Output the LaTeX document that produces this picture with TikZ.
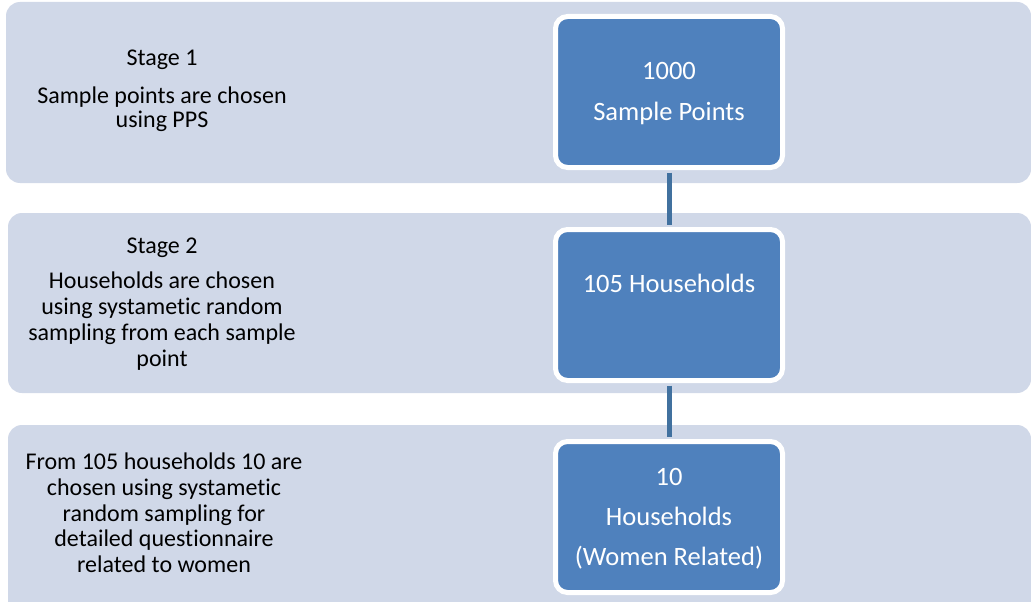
\documentclass[tikz,border=0pt]{standalone}
\usepackage{fontspec}
\setmainfont{Carlito}[Ligatures=NoCommon]
\definecolor{bandc}{HTML}{D0D8E8}
\definecolor{boxc}{HTML}{4F81BD}
\definecolor{linec}{HTML}{41719F}
\begin{document}
\begin{tikzpicture}[x=1pt,y=-1pt,
  band/.style={fill=bandc,draw=none,rounded corners=14pt},
  bluebox/.style={fill=boxc,draw=white,line width=5pt,rounded corners=12pt,minimum width=227pt,minimum height=151pt,inner sep=0pt},
  lefttxt/.style={anchor=base,inner sep=0pt,font=\fontsize{24}{26}\selectfont,text=black},
  boxtxt/.style={anchor=base,inner sep=0pt,font=\fontsize{26.5}{30}\selectfont,text=white},
  conn/.style={draw=linec,line width=5pt,shorten <=2.5pt,shorten >=2.5pt}]
\useasboundingbox (0,0) rectangle (1031,602);
\fill[white] (0,0) rectangle (1031,602);
% bands
\path[band] (6,2) rectangle (1031,183);
\path[band] (8,213) rectangle (1031,393);
\path[band] (8,425) rectangle (1031,616);
% boxes
\node[bluebox] (b1) at (669,92) {};
\node[bluebox] (b2) at (669,305) {};
\node[bluebox] (b3) at (669,517) {};
% connectors
\draw[conn] (b1.south) -- (b2.north);
\draw[conn] (b2.south) -- (b3.north);
% box texts
\node[boxtxt] (t11) at (669,80) {1000};
\node[boxtxt] (t12) at (669,120) {Sample Points};
\node[boxtxt] (t21) at (669,292) {105 Households};
\node[boxtxt] (t31) at (669,485) {10};
\node[boxtxt] (t32) at (669,525) {Households};
\node[boxtxt] (t33) at (669,565) {(Women Related)};
% left texts
\node[lefttxt] (s11) at (162,66) {Stage 1};
\node[lefttxt] (s12) at (162,103) {Sample points are chosen};
\node[lefttxt] (s13) at (162,127) {using PPS};
\node[lefttxt] (s21) at (162,253) {Stage 2};
\node[lefttxt] (s22) at (162,288) {Households are chosen};
\node[lefttxt] (s23) at (162,314) {using systametic random};
\node[lefttxt] (s24) at (162,340) {sampling from each sample};
\node[lefttxt] (s25) at (162,366) {point};
\node[lefttxt] (s31) at (164,469) {From 105 households 10 are};
\node[lefttxt] (s32) at (164,495) {chosen using systametic};
\node[lefttxt] (s33) at (164,521) {random sampling for};
\node[lefttxt] (s34) at (164,546) {detailed questionnaire};
\node[lefttxt] (s35) at (164,572) {related to women};
\end{tikzpicture}
\end{document}
